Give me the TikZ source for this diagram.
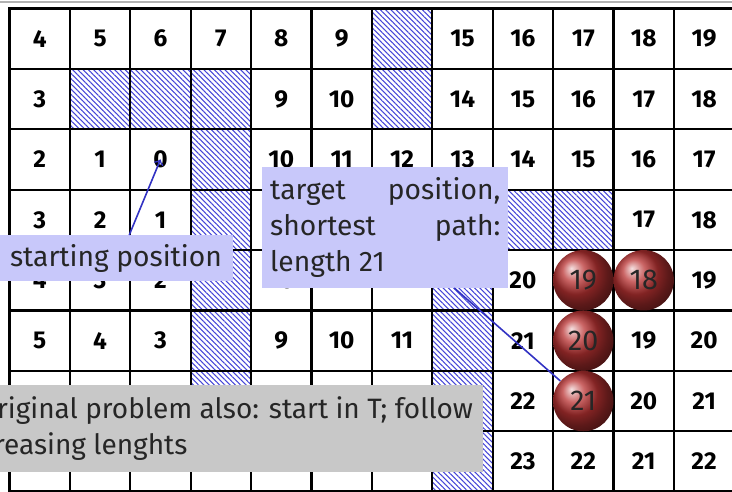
\documentclass[tikz,border=0pt]{standalone}
\usepackage{fontspec}
\setmainfont{Fira Sans}
\usetikzlibrary{patterns.meta}
\definecolor{lavender}{RGB}{200,200,250}
\definecolor{boxgray}{RGB}{200,200,200}
\definecolor{linkblue}{RGB}{50,50,195}
\definecolor{hatchblue}{RGB}{70,70,215}
\definecolor{ballred}{RGB}{185,50,50}
\tikzset{
  num/.style={font=\bfseries\fontsize{11.5}{12}\selectfont},
  wall/.style={pattern={Lines[angle=-45,distance=1.75pt,line width=0.5pt]},pattern color=hatchblue},
  ball/.style={circle,shading=ball,ball color=ballred,minimum size=1cm,inner sep=0pt,
    text=black!85,font=\fontsize{13.5}{14}\selectfont},
  callout/.style={fill=lavender,text=black!85,inner sep=3.7pt,font=\fontsize{13.3}{17}\selectfont},
  conn/.style={draw=linkblue,line width=0.75pt}
}
\begin{document}
\begin{tikzpicture}[x=1cm,y=1cm]
\useasboundingbox (-0.157,0.14) rectangle (11.962,-7.989);
% blocked cells
\foreach \r/\c in {0/6,1/1,1/2,1/3,1/6,2/3,3/3,4/3,5/3,6/3,3/8,3/9,4/7,5/7,6/7,7/7}
  \fill[wall] (\c,-\r) rectangle (\c+1,-\r-1);
\draw[line width=1pt] (0,-8) grid (12,0);
\draw[line width=1.5pt] (0,-8) rectangle (12,0);
\draw[black!30,line width=0.6pt] (-0.157,0.107) -- (11.962,0.107);
% path lengths
\foreach \vals [count=\r from 0] in {
  {4,5,6,7,8,9,,15,16,17,18,19},
  {3,,,,9,10,,14,15,16,17,18},
  {2,1,0,,10,11,12,13,14,15,16,17},
  {3,2,1,,,,,,,,17,18},
  {4,3,2,,10,11,12,,20,,,19},
  {5,4,3,,9,10,11,,21,,19,20},
  {,,,,,,,,22,,20,21},
  {,,,,,,,,23,22,21,22}}
  \foreach \v [count=\c from 0] in \vals {
    \ifx\v\empty\else\node[num] (n\r-\c) at (\c+.5,-\r-.5) {\v};\fi
  }
% shortest path
\node[ball] (b18) at (10.5,-4.5) {18};
\node[ball] (b19) at (9.5,-4.5) {19};
\node[ball] (b20) at (9.5,-5.5) {20};
\node[ball] (b21) at (9.5,-6.5) {21};
% labels
\node[callout,anchor=north east,minimum height=0.76cm,inner xsep=5pt] (startbox) at (3.70,-3.75) {starting position};
\node[callout,anchor=north west,text width=3.81cm,align=justify,minimum height=1.99cm] (tgtbox) at (4.18,-2.624)
  {target position,\linebreak shortest path:\linebreak length 21};
\node[callout,fill=boxgray,anchor=north east,align=left,minimum height=1.44cm,inner xsep=4.5pt,
  font=\fontsize{13.2}{17}\selectfont] (notebox) at (7.84,-6.23)
  {original problem also: start in T; follow\\\llap{de}creasing lenghts};
\draw[conn,->] ([xshift=0.22cm]startbox.north) -- (n2-2.center);
\draw[conn] (tgtbox) -- (b21);
\end{tikzpicture}
\end{document}
